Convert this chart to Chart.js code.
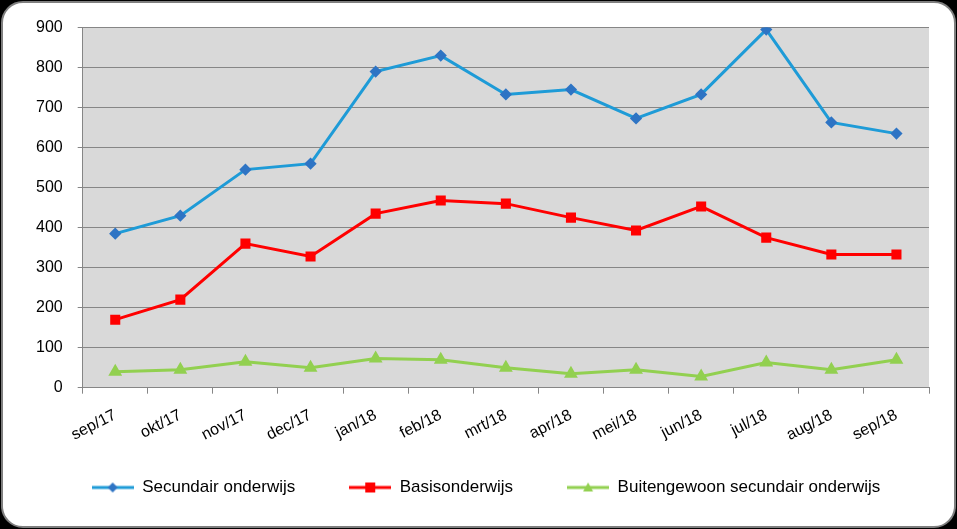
<!DOCTYPE html>
<html>
<head>
<meta charset="utf-8">
<script src="https://cdn.jsdelivr.net/npm/chart.js@4/dist/chart.umd.min.js"></script>
<style>
  html, body { margin: 0; padding: 0; background: #000; }
  #frame {
    position: absolute; left: 1px; top: 1px; width: 951px; height: 523px;
    background: #fff; border: 2px solid #7f7f7f; border-radius: 22px; overflow: hidden;
  }
  #wrap { position: absolute; left: 0; top: 0; width: 951px; height: 523px; }
</style>
</head>
<body>
<div id="frame"><div id="wrap"><canvas id="grafiek"></canvas></div></div>
<script>
const maanden = ['sep/17', 'okt/17', 'nov/17', 'dec/17', 'jan/18', 'feb/18', 'mrt/18',
  'apr/18', 'mei/18', 'jun/18', 'jul/18', 'aug/18', 'sep/18'];
const secundair = [385, 430, 545, 560, 790, 830, 733, 745, 673, 733, 895, 663, 635];
const basis = [170, 220, 360, 328, 435, 468, 460, 425, 393, 453, 375, 333, 333];
const buitengewoon = [40, 45, 65, 50, 73, 70, 50, 35, 45, 28, 63, 45, 70];

// legend icon: line with marker in the middle
const legendIcon = (lineColor, markColor, style) => {
  const c = document.createElement('canvas');
  c.width = 42; c.height = 12;
  const g = c.getContext('2d');
  g.strokeStyle = lineColor; g.lineWidth = 3;
  g.beginPath(); g.moveTo(0, 6); g.lineTo(42, 6); g.stroke();
  g.fillStyle = markColor;
  g.beginPath();
  if (style === 'rectRot') {
    g.moveTo(21, 1); g.lineTo(26, 6); g.lineTo(21, 11); g.lineTo(16, 6);
  } else if (style === 'rect') {
    g.rect(16, 1, 10, 10);
  } else {
    g.moveTo(21, 1); g.lineTo(26, 10); g.lineTo(16, 10);
  }
  g.closePath(); g.fill();
  return c;
};

const plotBg = {
  id: 'plotBg',
  afterLayout(chart) {
    // nudge legend: a bit right and up
    chart.legend.left += 11;
    chart.legend.right += 11;
    chart.legend.top -= 32;
    chart.legend.bottom -= 32;
  },
  beforeDraw(chart) {
    const { ctx, chartArea: a } = chart;
    ctx.save();
    ctx.fillStyle = '#d9d9d9';
    ctx.fillRect(a.left, a.top, a.right - a.left, a.bottom - a.top);
    ctx.restore();
  }
};

const series = [
  { label: 'Secundair onderwijs', data: secundair, line: '#1e9bd7', mark: '#2e74c4', style: 'rectRot', r: 4 },
  { label: 'Basisonderwijs', data: basis, line: '#ff0000', mark: '#ff0000', style: 'rect', r: 5 },
  { label: 'Buitengewoon secundair onderwijs', data: buitengewoon, line: '#92d050', mark: '#92d050', style: 'triangle', r: 5 }
];

const ctx = document.getElementById('grafiek').getContext('2d');
new Chart(ctx, {
  type: 'line',
  data: {
    labels: maanden,
    datasets: series.map((s) => ({
      label: s.label,
      data: s.data,
      borderColor: s.line,
      backgroundColor: s.mark,
      pointBackgroundColor: s.mark,
      pointBorderColor: s.mark,
      pointStyle: s.style,
      pointRadius: s.r,
      borderWidth: 3,
      tension: 0,
      fill: false
    }))
  },
  options: {
    responsive: true,
    maintainAspectRatio: false,
    animation: false,
    layout: { padding: { left: 18, right: 25, top: 24, bottom: -12 } },
    plugins: {
      tooltip: { enabled: false },
      legend: {
        position: 'bottom',
        labels: {
          usePointStyle: true,
          pointStyleWidth: 42,
          padding: 54,
          color: '#000',
          font: { family: 'Liberation Sans', size: 17 },
          generateLabels: (chart) => series.map((s, i) => ({
            text: s.label,
            pointStyle: legendIcon(s.line, s.mark, s.style),
            fillStyle: s.mark,
            strokeStyle: s.line,
            lineWidth: 0,
            datasetIndex: i,
            fontColor: '#000'
          }))
        }
      }
    },
    scales: {
      x: {
        offset: true,
        grid: { offset: true, drawOnChartArea: false, drawTicks: true, tickLength: 6, color: '#868686' },
        border: { color: '#868686' },
        ticks: {
          color: '#000',
          padding: 12,
          font: { family: 'Liberation Sans', size: 16 },
          minRotation: 27,
          maxRotation: 27,
          autoSkip: false
        }
      },
      y: {
        min: 0,
        max: 900,
        ticks: { stepSize: 100, color: '#000', padding: 15, font: { family: 'Liberation Sans', size: 16 } },
        grid: { color: '#868686', tickLength: 5, drawTicks: true },
        border: { color: '#868686' }
      }
    }
  },
  plugins: [plotBg]
});
</script>
</body>
</html>
